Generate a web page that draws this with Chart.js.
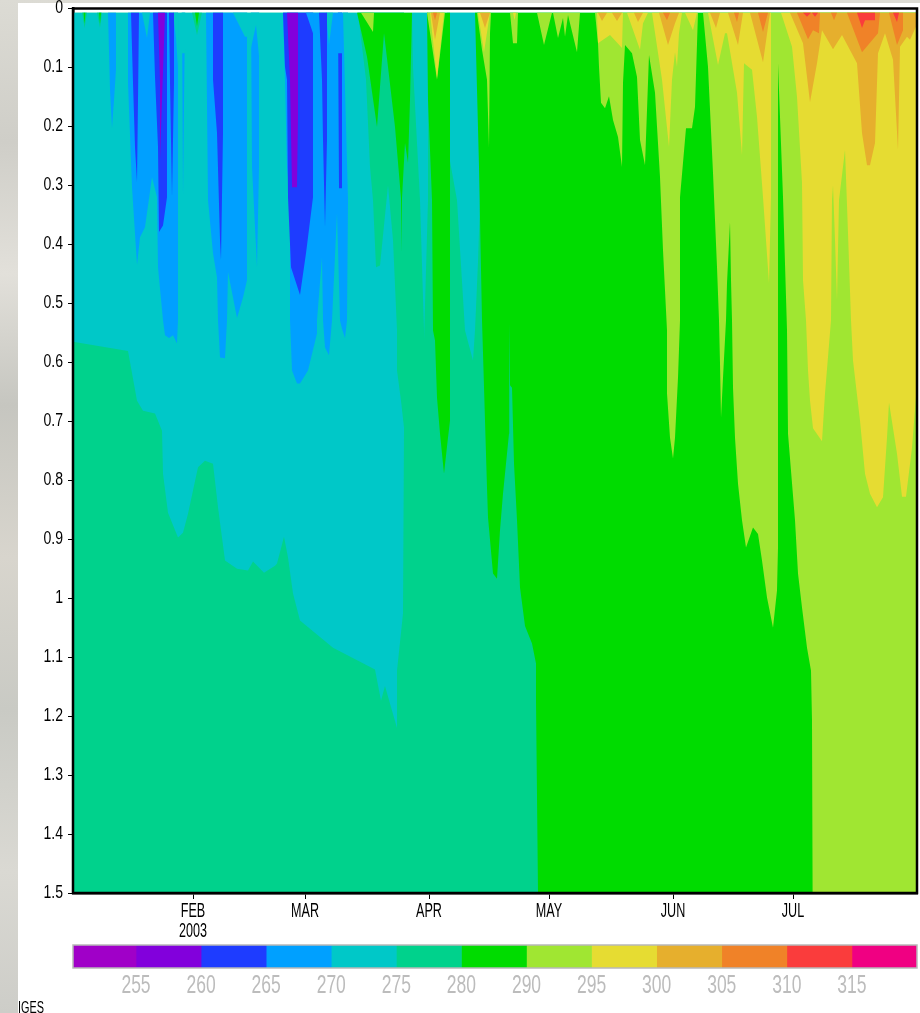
<!DOCTYPE html>
<html>
<head>
<meta charset="utf-8">
<title>Soil temperature 2003</title>
<script src="https://cdn.jsdelivr.net/npm/chart.js@4"></script>
<style>
html, body { margin: 0; padding: 0; width: 920px; height: 1013px; overflow: hidden; }
body {
    position: relative;
    background: linear-gradient(180deg, #dcdbd4 0%, #cfcec8 14%, #e2e0da 27%, #c6c6c0 40%, #d8d5cd 55%, #c9cac4 70%, #dad9d3 86%, #cdcdc8 100%);
}
#sheet { position: absolute; left: 18px; top: 3px; right: 0; bottom: 0; background: #fff; }
canvas { position: absolute; left: 0; }
#main { top: 0; }
#bar { top: 935px; }
#iges { position: absolute; left: 18px; top: 999px; font: 16px "Liberation Sans", sans-serif; color: #000; transform: scaleX(0.68); transform-origin: left top; }
</style>
</head>
<body>
<div id="sheet"></div>
<canvas id="main" width="920" height="945"></canvas>
<canvas id="bar" width="920" height="78"></canvas>
<div id="iges">IGES</div>
<script>
// depth of the first model layer, the curves all hang from here
const S = 0.007;

const monthDays = [32, 60, 91, 121, 152, 182];
const monthLabels = [['FEB', '2003'], 'MAR', 'APR', 'MAY', 'JUN', 'JUL'];
const depthTicks = [0, 0.1, 0.2, 0.3, 0.4, 0.5, 0.6, 0.7, 0.8, 0.9, 1, 1.1, 1.2, 1.3, 1.4, 1.5];
const barTickValues = [1, 2, 3, 4, 5, 6, 7, 8, 9, 10, 11, 12];
const barTickLabels = ['255', '260', '265', '270', '275', '280', '290', '295', '300', '305', '310', '315'];
const barColors = ['#a000c8', '#8200dc', '#1e3cff', '#00a0ff', '#00c8c8', '#00d28c', '#00dc00', '#a0e632', '#e6dc32', '#e6af2d', '#f08228', '#fa3c3c', '#f00082'];

// each curve is [day of year, depth] of a band's lower edge
const teal1 = [[2, 1.5], [213, 1.5]];

const cyan1 = [[2, .565], [15.75, .581], [18, .665], [19.5, .682], [22.5, .687], [24.25, .716], [24.5, .789], [25.75, .855], [28.25, .897], [29.5, .889], [30.75, .857], [33.25, .778], [35, .767], [37, .772], [38.25, .846], [40, .936], [43, .95], [45.75, .953], [47, .938], [49.75, .957], [52.5, .945], [53, .941], [54.75, .896], [55.75, .931], [57, .992], [58.75, 1.038], [67, 1.084], [77.5, 1.121], [79, 1.174], [80, 1.149], [83, 1.22], [83, 1.123], [84.5, 1.026], [84.75, .711], [84.75, S],
    [86.75, S], [87, .099], [88.75, .325], [89.75, .546], [89.75, .563], [90.75, .325], [90.75, S],
    [95.5, S], [95.75, .24], [98, .325], [100, .546], [102, .597], [102.5, .546], [103.25, .43], [103.75, .325], [103.75, S]];

const teal2 = [[4.25, S], [4.9, .033], [5.5, S], [8, S], [8.75, .033], [9.25, S], [31.75, S], [33, .045], [34.25, S],
    [73.25, S], [75.25, .121], [76.25, .269], [77, .325], [77.75, .439], [78.75, .436], [80.75, .3], [82, .393], [83, .546], [83, .614], [84, .665], [84.75, .711], [84.75, S]];

const blue1 = [[10.75, S], [11.25, .138], [11.75, .203], [12.25, .155], [12.75, .104], [12.75, S],
    [15.75, S], [15.75, .126], [16.75, .303], [18, .435], [18.75, .388], [20, .371], [21.75, .286], [23, .32], [23.25, .439], [24.5, .529], [25, .554], [26, .559], [27, .554], [28, .568], [28.25, .529], [28.25, S],
    [29.25, S], [29.5, .32], [30, S],
    [35.25, S], [35.75, .325], [37, .415], [38, .456], [38.25, .529], [38.75, .592], [40, .593], [40.5, .529], [40.75, .447], [43, .525], [44.5, .49], [45.5, .461], [45.5, S],
    [46.5, S], [46.75, .269], [48, .439], [48.5, .269], [48.5, S],
    [54.5, S], [55, .121], [55.5, .269], [56.25, .325], [56.25, .529], [56.75, .614], [58, .636], [58.75, .636], [60.75, .614], [63, .551], [63, .529], [64.25, .422], [64.5, .529], [65, .575], [66, .588], [66.75, .529], [68, .347], [68.75, .529], [69.25, .543], [70, .559], [70.5, .529], [70.75, .325], [70.75, S]];

const cyan2 = [[19.25, S], [20.5, .05], [21.25, S], [27, S], [27.75, .05], [28.25, .1], [28.3, S],
    [29.1, S], [29.1, .076], [30.1, .076], [30.1, S],
    [42, S], [45, .048], [45.6, .048], [45.6, S],
    [46.4, S], [46.4, .07], [47.75, .028], [48.6, .087], [48.6, S],
    [65.25, S], [66, .062], [67, S], [69.5, S], [70.75, .325], [70.8, S]];

const indigo = [[16.5, S], [17, .126], [17.5, .235], [18, .295], [18.25, .155], [18.5, S],
    [22, S], [22.5, .116], [23.25, .235], [23.5, .379], [24.5, .368], [25.5, .32], [25.5, S],
    [26, S], [26.25, .126], [26.75, .32], [27.25, .126], [27.25, S],
    [37, S], [37, .121], [38, .211], [38.75, .393], [39, .427], [39.5, .211], [39.5, S],
    [54.5, S], [55, .099], [55.5, .121], [55.75, .32], [56.5, .439], [58.75, .486], [60.25, .415], [62, .32], [62, S],
    [63.5, S], [64.25, .121], [64.5, .223], [65, .371], [65.5, .223], [65.5, S],
    [68.25, S], [68.5, .305], [69.25, .305], [69.25, S]];

const blue2 = [[60.25, S], [62, .042], [62.1, S], [68.2, S], [68.2, .076], [69.3, .076], [69.3, S]];

const violet = [[23.25, S], [23.75, .126], [23.75, .257], [24.25, .155], [25, S],
    [55.5, S], [56.25, .121], [56.75, .303], [58, .303], [58.25, .184], [58.25, S]];

const green = [[4.6, S], [4.9, .026], [5.1, S], [8.5, S], [8.75, .026], [9, S], [32.5, S], [33, .03], [33.5, S],
    [73, S], [75.5, .082], [78, .201], [79.75, .042], [80.75, .099], [82.5, .201], [84, .322], [84.1, .415], [84.25, .322], [85, .228], [85.75, .262], [86.25, .155], [86.75, S],
    [90.5, S], [90.75, .155], [91.75, .325], [92, .546], [92.5, .563], [93, .66], [93.75, .721], [94.75, .789], [95.75, .728], [96.25, .699], [96.25, S],
    [102.5, S], [103.5, .269], [104.25, .529], [104.5, .585], [105, .699], [105.5, .813], [105.75, .863], [107, .958], [108, .967], [108.75, .885], [109.5, .823], [110.5, .755], [111, .721], [111.05, .534], [111.25, .639], [111.75, .643], [112.25, .772], [113, .868], [113.75, .982], [115, 1.047], [116.75, 1.077], [117.75, 1.111], [117.75, 1.174], [118.25, 1.5], [213, 1.5]];

const lime = [[74, S], [77, .04], [77.25, S], [90.5, S], [93, .121], [95, S],
    [103, S], [104.25, .07], [105.5, .121], [106, .237], [106.25, .042], [106.5, S],
    [111.25, S], [112, .059], [113, .059], [113.25, S], [118, S], [119.75, .062], [121.75, S],
    [122, S], [123.25, .05], [124.5, .016], [125, .048], [125.75, .011], [128, .074], [128.75, S],
    [132.5, S], [133.25, .059], [133.5, .099], [134, .16], [135, .169], [136, .149], [137, .189], [138.25, .218], [139.25, .269], [139.5, .126], [140, .062], [141.75, .076], [143, .116], [143.75, .223], [145, .266], [145.5, .172], [146, .079], [147.5, .143], [148.75, .286], [149.5, .41], [150.5, .546], [150.5, .653], [151.25, .728], [152, .763], [152.5, .728], [153.25, .626], [153.75, .529], [153.75, .32], [155.25, .203], [156.75, .203], [157.5, .167], [158.25, S],
    [159.5, S], [160.75, .099], [162, .279], [163, .439], [163.5, .529], [163.75, .602], [164, .694], [164.5, .626], [165.25, .529], [165.5, .466], [166.25, .362], [166.5, .461], [166.75, .529], [167, .643], [167.5, .728], [168.25, .806], [169.25, .868], [170.25, .914], [172, .88], [173.25, .891], [174.25, .936], [175.5, .999], [177, 1.05], [178, .987], [178.25, .914], [178.25, .325], [178.25, .093], [178.75, .184], [179.5, .32], [180.5, .546], [180.75, .721], [182.5, .868], [183.25, .958], [184.25, 1.016], [185.5, 1.084], [186.5, 1.123], [186.75, 1.208], [186.9, 1.5], [213, 1.5]];

const yellow = [[91.25, S], [93, .118], [94.75, S], [103.25, S], [104.75, .074], [106.25, S], [112, S], [112.4, .02], [112.75, S],
    [133, S], [133.25, .059], [136.25, .045], [139.25, .067], [139.5, S],
    [140.5, S], [143.75, .07], [144.5, .025], [145.75, S],
    [146.75, S], [149.25, .121], [151, .235], [151.75, .121], [152.5, .074], [153, .099], [153.5, .042], [154.25, S],
    [155, S], [157, .037], [158, S],
    [160.75, S], [163.25, .096], [165, .042], [165.5, .042], [168, .143], [169.25, .249], [169.75, .093], [171.75, .104], [173, .184], [174.5, .32], [176, .466], [176.5, .32], [176.5, S],
    [179, S], [181.75, .065], [183, .15], [184.25, .296], [184.5, .461], [185.25, .529], [185.75, .614], [186.25, .665], [187, .712], [189.25, .734], [190, .653], [191.5, .529], [191.75, .325], [192, .3], [192.5, .393], [193, .495], [193.5, .325], [195, .24], [195.75, .381], [196.5, .529], [197, .597], [198.75, .699], [200, .789], [201.25, .823], [203, .846], [204.5, .829], [205.5, .728], [206, .668], [208, .755], [209.25, .828], [210.25, .828], [211.75, .745], [213, .636], [213, S]];

const gold = [[91.5, S], [92.5, .053], [93.75, S], [103.75, S], [105, .033], [106.25, S],
    [133.25, S], [134.25, .021], [135.5, S], [136.75, S], [138, .021], [139.25, S], [142.25, S], [143.25, .023], [144.5, S],
    [148.5, S], [150.75, .062], [152.5, .025], [153.5, S], [161.25, S], [162.75, .033], [163.75, S],
    [165.75, S], [168.25, .062], [169.5, S], [171.25, S], [174.5, .091], [176.25, S],
    [181.25, S], [184.5, .059], [186.25, .159], [188, .093], [189.25, .037], [192, .069], [194.25, .045], [198, .093], [199.25, .211], [200.5, .266], [201.25, .266], [202.5, .228], [203.25, .076], [205, .042], [207, .087], [208.25, .24], [208.75, .065], [210.5, .048], [211.25, .053], [212.75, .031], [213, .03], [213, S]];

const orange = [[92, S], [92.5, .02], [93, S], [149.5, S], [150.5, .02], [151.25, S], [167.25, S], [168, .023], [168.5, S],
    [173.25, S], [174.5, .04], [175.75, S], [183, S], [185.75, .052], [187, .037], [188.5, .042], [188.75, S],
    [191.5, S], [192.25, .02], [193, S], [195.5, S], [199.25, .074], [203.25, .042], [203.75, S],
    [206, S], [208, .062], [209.5, .037], [209.5, S]];

const red = [[184.5, S], [185.5, .014], [186.5, S], [186.75, S], [187.5, .014], [188.25, S],
    [198, S], [199.25, .033], [200, .02], [202.5, .02], [202.5, S], [207, S], [208, .023], [208.5, S]];

// painted in this order, later bands cover earlier ones
const bandCurves = [teal1, cyan1, teal2, blue1, cyan2, indigo, blue2, violet, green, lime, yellow, gold, orange, red];
const bandColors = ['#00d28c', '#00c8c8', '#00d28c', '#00a0ff', '#00c8c8', '#1e3cff', '#00a0ff', '#8200dc', '#00dc00', '#a0e632', '#e6dc32', '#e6af2d', '#f08228', '#fa3c3c'];

const labelFont = '"Liberation Sans", sans-serif';

const framePlugin = {
    id: 'frame',
    afterDraw(chart, args, opts) {
        const a = chart.chartArea;
        const ctx = chart.ctx;
        ctx.save();
        ctx.strokeStyle = opts.color;
        ctx.lineWidth = opts.width;
        ctx.strokeRect(a.left, a.top, a.width, a.height);
        ctx.restore();
    }
};

// no narrow font is installed, so the axis labels get squeezed sideways here
function squeezedText(ctx, text, x, y, squeeze) {
    ctx.save();
    ctx.translate(x, y);
    ctx.scale(squeeze, 1);
    ctx.fillText(text, 0, 0);
    ctx.restore();
}

const squeezedTicks = {
    id: 'squeezedTicks',
    afterDraw(chart, args, opts) {
        const ctx = chart.ctx;
        ctx.save();
        ctx.textBaseline = 'middle';
        if (opts.x) {
            ctx.font = opts.x.size + 'px ' + labelFont;
            ctx.fillStyle = opts.x.color;
            ctx.textAlign = 'center';
            const xScale = chart.scales.x;
            xScale.ticks.forEach(tick => {
                const px = xScale.getPixelForValue(tick.value);
                [].concat(tick.label).forEach((line, i) => {
                    squeezedText(ctx, line, px, xScale.top + opts.x.offset + i * opts.x.lineGap, opts.x.squeeze);
                });
            });
        }
        if (opts.y) {
            ctx.font = opts.y.size + 'px ' + labelFont;
            ctx.fillStyle = opts.y.color;
            ctx.textAlign = 'right';
            const yScale = chart.scales.y;
            yScale.ticks.forEach(tick => {
                squeezedText(ctx, tick.label, yScale.right - opts.y.offset, yScale.getPixelForValue(tick.value), opts.y.squeeze);
            });
        }
        ctx.restore();
    }
};

new Chart(document.getElementById('main'), {
    type: 'scatter',
    plugins: [framePlugin, squeezedTicks],
    data: {
        datasets: bandCurves.map((curve, i) => ({
            data: curve.map(p => ({ x: p[0], y: p[1] })),
            showLine: true,
            borderWidth: 0,
            pointRadius: 0,
            tension: 0,
            backgroundColor: bandColors[i],
            fill: { value: S },
            order: bandCurves.length - i
        }))
    },
    options: {
        responsive: false,
        animation: false,
        events: [],
        layout: { padding: { top: 8.5, right: 3 } },
        plugins: {
            legend: { display: false },
            tooltip: { enabled: false },
            frame: { color: '#000', width: 2.5 },
            squeezedTicks: {
                x: { size: 21, squeeze: 0.6, color: '#000', offset: 18, lineGap: 20 },
                y: { size: 18, squeeze: 0.78, color: '#000', offset: 10 }
            }
        },
        scales: {
            x: {
                type: 'linear',
                min: 2,
                max: 213,
                afterBuildTicks: scale => { scale.ticks = monthDays.map(v => ({ value: v })); },
                afterFit: scale => { scale.height = 52; },
                border: { color: '#000', width: 2.5 },
                grid: { drawOnChartArea: false, color: '#000', tickLength: 6 },
                ticks: {
                    display: false,
                    autoSkip: false,
                    maxRotation: 0,
                    callback: (v, i) => monthLabels[i]
                }
            },
            y: {
                min: 0,
                max: 1.5,
                reverse: true,
                afterBuildTicks: scale => { scale.ticks = depthTicks.map(v => ({ value: v })); },
                afterFit: scale => { scale.width = 73; },
                border: { color: '#000', width: 2.5 },
                grid: { drawOnChartArea: false, color: '#000', tickLength: 5 },
                ticks: {
                    display: false,
                    autoSkip: false,
                    callback: v => String(v)
                }
            }
        }
    }
});

new Chart(document.getElementById('bar'), {
    type: 'bar',
    plugins: [framePlugin, squeezedTicks],
    data: {
        labels: ['K'],
        datasets: barColors.map(color => ({
            data: [1],
            backgroundColor: color,
            barPercentage: 1,
            categoryPercentage: 1
        }))
    },
    options: {
        indexAxis: 'y',
        responsive: false,
        animation: false,
        events: [],
        layout: { padding: { top: 10, right: 3 } },
        plugins: {
            legend: { display: false },
            tooltip: { enabled: false },
            frame: { color: '#b8b8b8', width: 1.5 },
            squeezedTicks: {
                x: { size: 25, squeeze: 0.7, color: '#bcbcbc', offset: 18, lineGap: 0 }
            }
        },
        scales: {
            x: {
                stacked: true,
                min: 0.032,
                max: 13,
                afterBuildTicks: scale => { scale.ticks = barTickValues.map(v => ({ value: v })); },
                afterFit: scale => { scale.height = 45; },
                border: { display: false },
                grid: { display: false },
                ticks: {
                    display: false,
                    autoSkip: false,
                    maxRotation: 0,
                    callback: (v, i) => barTickLabels[i]
                }
            },
            y: {
                stacked: true,
                afterFit: scale => { scale.width = 73; },
                ticks: { display: false },
                grid: { display: false },
                border: { display: false }
            }
        }
    }
});
</script>
</body>
</html>
